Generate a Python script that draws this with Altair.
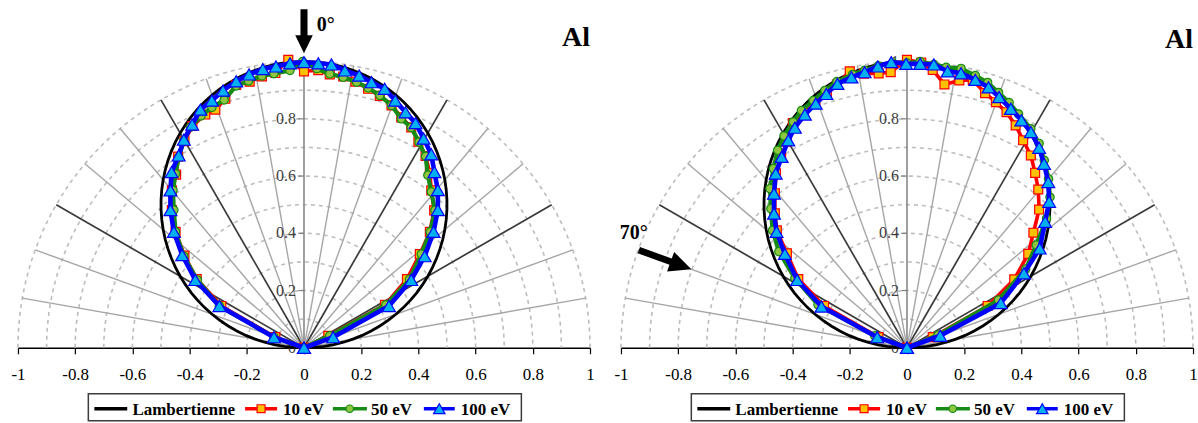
import altair as alt
import numpy as np
import pandas as pd

SERIF = "Liberation Serif, Times New Roman, Times, serif"

# ---------------------------------------------------------------------------
# Normalised angular distributions, stored as (x, y) = (I*sin(theta), I*cos(theta)),
# ordered from -90 deg to +90 deg.
# ---------------------------------------------------------------------------
# Incidence 0 deg
N10_X = [0, -0.100, -0.289, -0.375, -0.418, -0.449, -0.462, -0.462, -0.447, -0.440, -0.418,
         -0.390, -0.345, -0.310, -0.275, -0.237, -0.190, -0.147, -0.100, -0.055, 0.000,
         0.050, 0.090, 0.137, 0.180, 0.224, 0.265, 0.306, 0.340, 0.375, 0.400,
         0.425, 0.440, 0.445, 0.455, 0.440, 0.405, 0.360, 0.283, 0.085, 0]
N10_Y = [0, 0.037, 0.146, 0.240, 0.322, 0.405, 0.481, 0.550, 0.605, 0.668, 0.722,
         0.775, 0.815, 0.832, 0.870, 0.918, 0.930, 0.948, 0.960, 1.006, 0.966,
         0.970, 0.955, 0.948, 0.930, 0.905, 0.880, 0.847, 0.805, 0.770, 0.720,
         0.670, 0.610, 0.550, 0.480, 0.405, 0.327, 0.240, 0.150, 0.042, 0]
N50_X = [0, -0.105, -0.296, -0.373, -0.420, -0.449, -0.455, -0.458, -0.449, -0.438, -0.420,
         -0.397, -0.360, -0.322, -0.279, -0.237, -0.194, -0.147, -0.105, -0.049, -0.005,
         0.045, 0.090, 0.137, 0.184, 0.224, 0.265, 0.306, 0.340, 0.375, 0.402,
         0.425, 0.433, 0.445, 0.458, 0.441, 0.410, 0.369, 0.286, 0.090, 0]
N50_Y = [0, 0.037, 0.146, 0.237, 0.320, 0.405, 0.481, 0.550, 0.608, 0.666, 0.724,
         0.771, 0.810, 0.840, 0.866, 0.915, 0.932, 0.950, 0.958, 0.969, 1.000,
         0.975, 0.957, 0.945, 0.928, 0.908, 0.882, 0.847, 0.800, 0.770, 0.719,
         0.669, 0.603, 0.545, 0.480, 0.405, 0.327, 0.239, 0.150, 0.042, 0]
N100_X = [0, -0.105, -0.296, -0.380, -0.426, -0.455, -0.467, -0.467, -0.463, -0.438, -0.420,
          -0.391, -0.362, -0.322, -0.283, -0.237, -0.192, -0.144, -0.098, -0.049, 0.000,
          0.050, 0.096, 0.143, 0.193, 0.236, 0.282, 0.319, 0.355, 0.390, 0.418,
          0.445, 0.456, 0.468, 0.468, 0.453, 0.422, 0.375, 0.297, 0.102, 0]
N100_Y = [0, 0.037, 0.146, 0.237, 0.324, 0.405, 0.481, 0.550, 0.614, 0.672, 0.727,
          0.780, 0.832, 0.864, 0.899, 0.931, 0.955, 0.974, 0.983, 0.994, 0.998,
          0.994, 0.990, 0.969, 0.951, 0.928, 0.905, 0.864, 0.823, 0.785, 0.731,
          0.676, 0.614, 0.551, 0.481, 0.405, 0.320, 0.237, 0.146, 0.037, 0]

# Incidence 70 deg
O10_X = [0, -0.100, -0.290, -0.380, -0.420, -0.455, -0.462, -0.462, -0.458, -0.440, -0.420,
         -0.399, -0.360, -0.320, -0.280, -0.245, -0.200, -0.150, -0.099, -0.057, 0.000,
         0.050, 0.090, 0.131, 0.183, 0.230, 0.273, 0.311, 0.348, 0.380, 0.406,
         0.433, 0.448, 0.459, 0.462, 0.442, 0.424, 0.375, 0.282, 0.090, 0]
O10_Y = [0, 0.037, 0.146, 0.240, 0.330, 0.410, 0.470, 0.540, 0.610, 0.665, 0.720,
         0.785, 0.820, 0.855, 0.890, 0.920, 0.966, 0.958, 0.959, 0.963, 1.006,
         0.997, 0.971, 0.920, 0.934, 0.936, 0.890, 0.858, 0.823, 0.777, 0.725,
         0.672, 0.611, 0.553, 0.483, 0.402, 0.328, 0.239, 0.146, 0.037, 0]
O50_X = [0, -0.113, -0.311, -0.392, -0.448, -0.470, -0.476, -0.479, -0.467, -0.452, -0.430,
         -0.398, -0.369, -0.328, -0.287, -0.245, -0.190, -0.148, -0.100, -0.050, 0.000,
         0.046, 0.094, 0.137, 0.189, 0.239, 0.282, 0.320, 0.357, 0.390, 0.433,
         0.462, 0.480, 0.495, 0.500, 0.488, 0.452, 0.415, 0.320, 0.108, 0]
O50_Y = [0, 0.042, 0.150, 0.243, 0.336, 0.410, 0.486, 0.556, 0.626, 0.690, 0.740,
         0.789, 0.829, 0.864, 0.899, 0.930, 0.955, 0.970, 0.985, 0.995, 0.995,
         1.000, 0.990, 0.980, 0.976, 0.951, 0.927, 0.892, 0.857, 0.817, 0.765,
         0.714, 0.655, 0.590, 0.526, 0.452, 0.359, 0.275, 0.167, 0.044, 0]
O100_X = [0, -0.104, -0.299, -0.384, -0.427, -0.456, -0.465, -0.465, -0.459, -0.438, -0.415,
          -0.392, -0.357, -0.319, -0.282, -0.243, -0.194, -0.148, -0.102, -0.055, -0.003,
          0.046, 0.094, 0.142, 0.189, 0.239, 0.285, 0.322, 0.363, 0.400, 0.433,
          0.462, 0.479, 0.494, 0.497, 0.483, 0.464, 0.409, 0.328, 0.116, 0]
O100_Y = [0, 0.037, 0.144, 0.237, 0.328, 0.405, 0.469, 0.539, 0.609, 0.667, 0.725,
          0.769, 0.815, 0.853, 0.887, 0.922, 0.945, 0.963, 0.983, 0.998, 0.992,
          0.992, 0.990, 0.966, 0.959, 0.936, 0.910, 0.876, 0.835, 0.795, 0.754,
          0.699, 0.643, 0.579, 0.510, 0.440, 0.347, 0.260, 0.156, 0.042, 0]

# Lambertian reference I = cos(theta)
LAMBERT_DEG = list(range(-90, 91, 2))

# Polar grid
RING_RADII = [0.1, 0.2, 0.3, 0.4, 0.5, 0.6, 0.7, 0.8, 0.9, 1.0]
SPOKE_DEG = [-80, -70, -60, -50, -40, -30, -20, -10, 10, 20, 30, 40, 50, 60, 70, 80]
DARK_SPOKES = [-60, -30, 30, 60]
X_TICKS = [-1, -0.8, -0.6, -0.4, -0.2, 0, 0.2, 0.4, 0.6, 0.8, 1]
Y_TICKS = [0, 0.2, 0.4, 0.6, 0.8, 1]
Y_LABELS = ["0", "0.2", "0.4", "0.6", "0.8", "1"]

# Series styling: line colour, line width, marker shape, marker fill, marker size
STYLES = {
    "10 eV": ("#FF0000", 3.6, "square", "#FFC000", 80),
    "50 eV": ("#168C16", 4.2, "circle", "#8DC63F", 70),
    "100 eV": ("#0000FF", 4.6, "triangle-up", "#00B0F0", 165),
}

XS = alt.Scale(domain=[-1, 1], nice=False, zero=False)
YS = alt.Scale(domain=[0, 1.2], nice=False, zero=False)
XAXIS = alt.Axis(values=X_TICKS, labelExpr="'' + datum.value", title=None, grid=False,
                 domainColor="#000000", domainWidth=1.5, tickColor="#000000", tickWidth=1.2,
                 tickSize=6, labelFont=SERIF, labelFontSize=17, labelColor="#000000",
                 labelPadding=13, labelFlush=False, labelOverlap=False)


def X(f="x"):
    return alt.X(f, type="quantitative", scale=XS, axis=XAXIS)


def Y(f="y"):
    return alt.Y(f, type="quantitative", scale=YS, axis=None)


def grid_layers():
    rows = []
    for r in RING_RADII:
        for i, d in enumerate(range(-90, 91, 2)):
            t = np.radians(d)
            rows.append({"r": r, "i": i, "x": r * np.sin(t), "y": r * np.cos(t)})
    rings = alt.Chart(pd.DataFrame(rows)).mark_line(
        color="#BDBDBD", strokeWidth=1.6, strokeDash=[4, 4]
    ).encode(x=X(), y=Y(), detail="r:N", order="i:Q")

    sp = pd.DataFrame({"deg": SPOKE_DEG})
    t = np.radians(sp["deg"])
    sp["x0"] = 0.0
    sp["y0"] = 0.0
    sp["x1"] = np.sin(t)
    sp["y1"] = np.cos(t)
    sp["c"] = ["#3A3A3A" if d in DARK_SPOKES else "#A6A6A6" for d in SPOKE_DEG]
    sp["w"] = [1.7 if d in DARK_SPOKES else 1.4 for d in SPOKE_DEG]
    spokes = alt.Chart(sp).mark_rule().encode(
        x=X("x0"), y=Y("y0"), x2="x1", y2="y1",
        color=alt.Color("c:N", scale=None), strokeWidth=alt.StrokeWidth("w:Q", scale=None),
    )

    vax = alt.Chart(pd.DataFrame({"x": [0.0], "y": [0.0], "y2": [1.0]})).mark_rule(
        color="#808080", strokeWidth=1.5
    ).encode(x=X(), y=Y(), y2="y2")

    yt = pd.DataFrame({"y": Y_TICKS, "lab": Y_LABELS})
    yt["x"] = -0.02
    yt["x2"] = 0.0
    yticks = alt.Chart(yt).mark_rule(color="#808080", strokeWidth=1.2).encode(
        x=X(), x2="x2", y=Y()
    )
    ylabels = alt.Chart(yt.assign(x=0.0)).mark_text(
        align="right", baseline="middle", dx=-8, font=SERIF, fontSize=16, color="#404040"
    ).encode(x=X(), y=Y(), text="lab:N")
    return [rings, spokes, vax, yticks, ylabels]


def lambert_layer():
    t = np.radians(LAMBERT_DEG)
    r = np.cos(t)
    df = pd.DataFrame({"i": range(len(LAMBERT_DEG)), "x": r * np.sin(t), "y": r * np.cos(t)})
    return alt.Chart(df).mark_line(color="#000000", strokeWidth=2.8).encode(
        x=X(), y=Y(), order="i:Q"
    )


def series_layers(name, xs, ys):
    line_c, lw, shape, fill, size = STYLES[name]
    df = pd.DataFrame({"i": range(len(xs)), "x": xs, "y": ys})
    line = alt.Chart(df).mark_line(color=line_c, strokeWidth=lw, strokeJoin="round").encode(
        x=X(), y=Y(), order="i:Q"
    )
    pts = alt.Chart(df).mark_point(
        shape=shape, filled=True, fill=fill, stroke=line_c, strokeWidth=1.2, size=size,
        opacity=1,
    ).encode(x=X(), y=Y())
    return [line, pts]


# Legend (drawn below the axis, in the panel's data coordinates)
LEG_BOX = (-0.754, 0.760, -0.161, -0.255)
LEG_Y = -0.213
LEG_ITEMS = [
    # name, line start, line end, marker x, text x
    ("Lambertienne", -0.733, -0.618, None, -0.600),
    ("10 eV", -0.206, -0.094, -0.150, -0.073),
    ("50 eV", 0.101, 0.220, 0.160, 0.234),
    ("100 eV", 0.419, 0.527, 0.473, 0.548),
]


def legend_layers():
    bx0, bx1, by0, by1 = LEG_BOX
    box = alt.Chart(pd.DataFrame({"x": [bx0], "x2": [bx1], "y": [by0], "y2": [by1]})).mark_rect(
        fill="#FFFFFF", stroke="#3C3C3C", strokeWidth=1.5
    ).encode(x=X(), x2="x2", y=Y(), y2="y2")
    layers = [box]
    for name, lx0, lx1, mx, tx in LEG_ITEMS:
        c = "#000000" if name == "Lambertienne" else STYLES[name][0]
        layers.append(
            alt.Chart(pd.DataFrame({"x": [lx0], "x2": [lx1], "y": [LEG_Y]})).mark_rule(
                color=c, strokeWidth=3.5
            ).encode(x=X(), x2="x2", y=Y())
        )
        if mx is not None:
            _, _, shape, fill, size = STYLES[name]
            layers.append(
                alt.Chart(pd.DataFrame({"x": [mx], "y": [LEG_Y]})).mark_point(
                    shape=shape, filled=True, fill=fill, stroke=c, strokeWidth=1.2,
                    size=size * 0.8, opacity=1
                ).encode(x=X(), y=Y())
            )
        layers.append(
            alt.Chart(pd.DataFrame({"x": [tx], "y": [LEG_Y - 0.006], "t": [name]})).mark_text(
                align="left", baseline="middle", font=SERIF, fontSize=17, fontWeight="bold",
                color="#000000"
            ).encode(x=X(), y=Y(), text="t:N")
        )
    return layers


def text_layer(x, y, txt, size, align="left"):
    return alt.Chart(pd.DataFrame({"x": [x], "y": [y], "t": [txt]})).mark_text(
        align=align, baseline="middle", font=SERIF, fontSize=size, fontWeight="bold",
        color="#000000"
    ).encode(x=X(), y=Y(), text="t:N")


ARROW_DOWN = "M-0.16,-1L0.16,-1L0.16,0.18L0.4,0.18L0,1L-0.4,0.18L-0.16,0.18Z"
ARROW_SLANT = "M-0.12,-1L0.12,-1L0.12,0.21L0.37,0.21L0,1L-0.37,0.21L-0.12,0.21Z"


def arrow_layer(x, y, path, size, angle):
    return alt.Chart(pd.DataFrame({"x": [x], "y": [y]})).mark_point(
        shape=path, filled=True, color="#000000", size=size, angle=angle, opacity=1
    ).encode(x=X(), y=Y())


def panel(profiles, extras):
    layers = grid_layers() + [lambert_layer()]
    for name, xs, ys in profiles:
        layers += series_layers(name, xs, ys)
    layers += extras + legend_layers()
    return alt.layer(*layers).properties(width=573, height=344)


t70 = np.radians(70)
left = panel(
    [("10 eV", N10_X, N10_Y), ("50 eV", N50_X, N50_Y), ("100 eV", N100_X, N100_Y)],
    [
        arrow_layer(0.0, 1.106, ARROW_DOWN, 1936, 0),
        text_layer(0.045, 1.127, "0°", 20),
        text_layer(1.0, 1.084, "Al", 28, align="right"),
    ],
)
right = panel(
    [("10 eV", O10_X, O10_Y), ("50 eV", O50_X, O50_Y), ("100 eV", O100_X, O100_Y)],
    [
        arrow_layer(-0.9 * np.sin(t70), 0.9 * np.cos(t70), ARROW_SLANT, 3136, 290),
        text_layer(-0.955, 0.401, "70°", 20, align="center"),
        text_layer(1.0, 1.077, "Al", 28, align="right"),
    ],
)

chart = (
    alt.hconcat(left, right, spacing=31, bounds="flush")
    .properties(padding={"left": 10, "top": 4, "right": 0, "bottom": 0}, background="#FFFFFF")
    .configure_view(stroke=None)
)

chart.save("out.html", embed_options={"renderer": "svg", "actions": False})
